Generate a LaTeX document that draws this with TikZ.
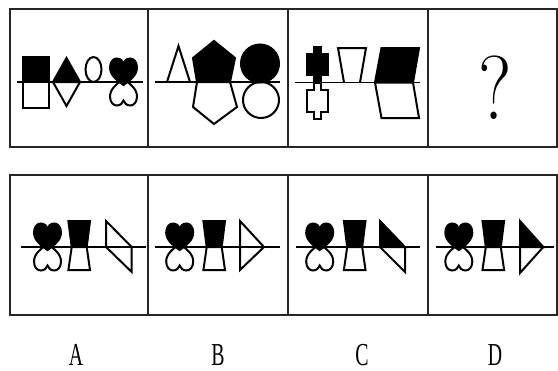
\documentclass[tikz,border=0pt]{standalone}
\usepackage{fontspec}
\usepackage{tikz}
\newfontfamily\letrafont[FakeStretch=0.62]{Liberation Serif}

\tikzset{
  corazon/.pic={
    \path[pic actions] (0,0) .. controls (-7,-5) and (-13.5,-10) .. (-13.5,-17.5)
      .. controls (-13.5,-23.5) and (-10,-26.5) .. (-6.8,-26.5)
      .. controls (-3.2,-26.5) and (-0.5,-24) .. (0,-21.5)
      .. controls (0.5,-24) and (3.2,-26.5) .. (6.8,-26.5)
      .. controls (10,-26.5) and (13.5,-23.5) .. (13.5,-17.5)
      .. controls (13.5,-10) and (7,-5) .. (0,0) -- cycle;
  },
  corazones/.pic={
    \pic[figura, yscale=-1] at (0,-3) {corazon};
    \pic[relleno] at (0,3) {corazon};
  },
  vaso/.pic={
    \draw[figura] (-7.5,0) -- (-10.8,23) -- (10.8,23) -- (7.5,0);
    \filldraw[relleno] (-10.8,-26) -- (10.8,-26) -- (7.5,0) -- (-7.5,0) -- cycle;
  }
}

\begin{document}
\begin{tikzpicture}[
  x=0.75pt, y=-0.75pt,
  caja/.style={draw=black!85, line width=2pt},
  eje/.style={draw=black, line width=1.4pt},
  figura/.style={draw=black, line width=1.5pt, line join=miter},
  relleno/.style={figura, fill=black},
  letra/.style={inner sep=1pt, font=\letrafont\fontsize{24}{24}\selectfont}
]
\useasboundingbox (0,0) rectangle (558,371);

% cajas
\draw[caja] (10,9) rectangle (557,147);
\draw[caja] (10,175) rectangle (557,315);
\foreach \x in {148,288,428} {
  \draw[caja] (\x,9) -- (\x,147);
  \draw[caja] (\x,175) -- (\x,315);
}

% primera caja
\draw[figura] (23,82) rectangle (49,108);
\filldraw[relleno] (23,57) rectangle (49,82);
\draw[figura] (53,82) -- (66.5,106) -- (80,82);
\filldraw[relleno] (53,82) -- (66.5,58) -- (80,82) -- cycle;
\draw[figura] (93.5,69.5) ellipse [x radius=8, y radius=12.5];
\pic[figura, yscale=-1] at (123.5,79) {corazon};
\pic[relleno] at (123.5,85) {corazon};
\draw[eje] (17,82) -- (143,82);

% segunda caja
\draw[figura] (167,82) -- (178.5,46) -- (190,82);
\draw[figura] (197,82) -- (193,107) -- (214,124) -- (237,107) -- (230,82);
\filldraw[relleno] (214,41) -- (193,58) -- (197,82) -- (230,82) -- (235,58) -- cycle;
\draw[figura] (261,100) circle [radius=18];
\filldraw[relleno] (260,63.5) circle [radius=19];
\draw[eje] (155,82) -- (280,82);

% tercera caja
\draw[figura] (314.3,82.5) -- (314.3,90) -- (306.7,90) -- (306.7,111.5) -- (314.3,111.5)
  -- (314.3,118.5) -- (321,118.5) -- (321,111.5) -- (328.3,111.5) -- (328.3,90)
  -- (321,90) -- (321,82.5);
\filldraw[relleno] (314.3,82.5) -- (314.3,75) -- (306.7,75) -- (306.7,53.5) -- (314.3,53.5)
  -- (314.3,46.5) -- (321,46.5) -- (321,53.5) -- (328.3,53.5) -- (328.3,75)
  -- (321,75) -- (321,82.5) -- cycle;
\draw[figura] (344,82.5) -- (338,48) -- (366,48) -- (360,82.5);
\draw[figura] (375,82.5) -- (381.5,118) -- (419,118) -- (413,82.5);
\filldraw[relleno] (375,82.5) -- (381.5,48) -- (419,48) -- (413,82.5) -- cycle;
\draw[eje] (295,82.5) -- (420,82.5);

% cuarta caja
\node[inner sep=0pt, font=\fontsize{68}{68}\selectfont] (pregunta) at (495,88) {\scalebox{0.85}[1]{?}};

% opciones
\pic at (47.5,247) {corazones};
\pic at (79.2,247) {vaso};
\draw[figura] (106,221) -- (131.7,247) -- (131.7,272) -- (106,247) -- cycle;
\draw[eje] (21,247) -- (146,247);

\pic at (179.7,247) {corazones};
\pic at (214.2,247) {vaso};
\draw[figura] (240,221) -- (264,247) -- (240,270) -- cycle;
\draw[eje] (155,247) -- (280,247);

\pic at (319.7,247) {corazones};
\pic at (354.7,247) {vaso};
\draw[figura] (380,247) -- (405,272) -- (405,247);
\filldraw[relleno] (380,221) -- (405,247) -- (380,247) -- cycle;
\draw[eje] (296,247) -- (420,247);

\pic at (458.8,247) {corazones};
\pic at (493.3,247) {vaso};
\draw[figura] (520,247) -- (520,273) -- (543.3,247);
\filldraw[relleno] (520,221) -- (543.3,247) -- (520,247) -- cycle;
\draw[eje] (436,247) -- (554,247);

% letras
\node[letra] (opA) at (76,355) {A};
\node[letra] (opB) at (218,355) {B};
\node[letra] (opC) at (362,355) {C};
\node[letra] (opD) at (495,355) {D};
\end{tikzpicture}
\end{document}
